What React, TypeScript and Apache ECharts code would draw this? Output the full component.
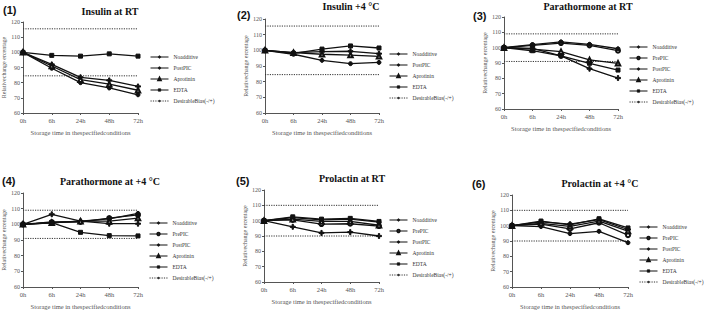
import React, { useEffect, useRef } from 'react';
import * as echarts from 'echarts';

const timePoints = ['0h', '6h', '24h', '48h', '72h'];
const seriesNames = ['Noadditive', 'PrePIC', 'PostPIC', 'Aprotinin', 'EDTA'];
const biasName = 'DesirableBias(-/+)';

const panelTitles = ['Insulin at RT', 'Insulin +4 °C', 'Parathormone at RT', 'Parathormone at +4 °C', 'Prolactin at RT', 'Prolactin at +4 °C'];
const panelLabels = ['(1)', '(2)', '(3)', '(4)', '(5)', '(6)'];

// Panel 1: Insulin at RT
const p1Noadditive = [100, 92, 83.5, 81.5, 77.5];
const p1PostPIC = [100, 89.5, 80, 76.5, 72];
const p1Aprotinin = [100, 91, 82, 79, 75];
const p1EDTA = [100, 98, 97.5, 99, 97.5];
const p1Bias = [115.5, 84.5];

// Panel 2: Insulin +4 °C
const p2Noadditive = [100, 98.5, 99.2, 99.4, 97.9];
const p2PostPIC = [100, 97.5, 93.6, 91.5, 92.3];
const p2Aprotinin = [100, 98.5, 97.5, 97, 96.2];
const p2EDTA = [100, 98.1, 100.8, 102.8, 101.5];
const p2Bias = [115.5, 84.5];

// Panel 3: Parathormone at RT
const p3Noadditive = [100, 99.6, 94.6, 86.3, 80.2];
const p3PrePIC = [100, 101.5, 103, 101.5, 98];
const p3PostPIC = [100, 102, 103.8, 102.2, 99.3];
const p3Aprotinin = [100, 99, 97.4, 92, 89.8];
const p3EDTA = [100, 98, 94.6, 89.8, 85.4];
const p3Bias = [109, 91];

// Panel 4: Parathormone at +4 °C
const p4Noadditive = [100, 106.4, 102, 100.4, 100.4];
const p4PrePIC = [100, 101.5, 101.5, 104, 106];
const p4PostPIC = [100, 101, 102, 103.5, 107];
const p4Aprotinin = [100, 101, 102, 102, 104];
const p4EDTA = [100, 101.1, 94.9, 92.8, 92.6];
const p4Bias = [109, 91];

// Panel 5: Prolactin at RT
const p5Noadditive = [100, 96, 92, 92.5, 90];
const p5PrePIC = [100, 100.5, 97.8, 98, 96.5];
const p5PostPIC = [100, 102, 100.5, 101, 99];
const p5Aprotinin = [100, 101, 99.5, 99.5, 97];
const p5EDTA = [100, 102.5, 101, 101.5, 99.5];
const p5Bias = [110, 90];

// Panel 6: Prolactin at +4 °C
const p6Noadditive = [100, 102.5, 101, 104, 97.5];
const p6PrePIC = [100, 101, 97.9, 101.9, 93.8];
const p6PostPIC = [100, 99.4, 94.8, 96.3, 88.9];
const p6Aprotinin = [100, 101.5, 99.5, 103, 96.5];
const p6EDTA = [100, 103, 100.5, 104.5, 98.5];
const p6Bias = [110, 90];

const panelData: Array<{ [k: string]: number[] }> = [
  { Noadditive: p1Noadditive, PostPIC: p1PostPIC, Aprotinin: p1Aprotinin, EDTA: p1EDTA },
  { Noadditive: p2Noadditive, PostPIC: p2PostPIC, Aprotinin: p2Aprotinin, EDTA: p2EDTA },
  { Noadditive: p3Noadditive, PrePIC: p3PrePIC, PostPIC: p3PostPIC, Aprotinin: p3Aprotinin, EDTA: p3EDTA },
  { Noadditive: p4Noadditive, PrePIC: p4PrePIC, PostPIC: p4PostPIC, Aprotinin: p4Aprotinin, EDTA: p4EDTA },
  { Noadditive: p5Noadditive, PrePIC: p5PrePIC, PostPIC: p5PostPIC, Aprotinin: p5Aprotinin, EDTA: p5EDTA },
  { Noadditive: p6Noadditive, PrePIC: p6PrePIC, PostPIC: p6PostPIC, Aprotinin: p6Aprotinin, EDTA: p6EDTA },
];
const panelBias = [p1Bias, p2Bias, p3Bias, p4Bias, p5Bias, p6Bias];

// layout (pixels)
const grids = [
  { left: 23, top: 22, width: 115, height: 91 },
  { left: 265, top: 19, width: 114, height: 94 },
  { left: 504, top: 17, width: 114, height: 92 },
  { left: 23, top: 193, width: 115, height: 94 },
  { left: 264, top: 190, width: 115, height: 92 },
  { left: 512, top: 195, width: 116, height: 97 },
];
const legendPos = [
  { left: 150, top: 53 },
  { left: 389, top: 50 },
  { left: 629, top: 43 },
  { left: 149, top: 219 },
  { left: 389, top: 216 },
  { left: 639, top: 223 },
];
const titlePos = [
  { x: 110, y: 11, lx: 3, ly: 10 },
  { x: 351, y: 6, lx: 237, ly: 15 },
  { x: 588, y: 6, lx: 473, ly: 16 },
  { x: 110, y: 181, lx: 2, ly: 181 },
  { x: 352, y: 178, lx: 236, ly: 181 },
  { x: 600, y: 183, lx: 472, ly: 184 },
];

const plusPath = 'path://M3,0H5V3H8V5H5V8H3V5H0V3H3Z';
const symbolOf: { [k: string]: string } = {
  Noadditive: plusPath,
  PrePIC: 'emptyCircle',
  PostPIC: 'circle',
  Aprotinin: 'emptyTriangle',
  EDTA: 'rect',
};
const sizeOf: { [k: string]: number } = {
  Noadditive: 5,
  PrePIC: 4,
  PostPIC: 4,
  Aprotinin: 4.5,
  EDTA: 4,
};

const serif = 'Liberation Serif, DejaVu Serif, serif';
const sans = 'Liberation Sans, Arial, sans-serif';

export default function App() {
  const ref = useRef<HTMLDivElement>(null);
  useEffect(() => {
    if (!ref.current) return;
    const chart = echarts.init(ref.current, undefined, { renderer: 'svg' });

    const xAxis: any[] = [];
    const yAxis: any[] = [];
    const series: any[] = [];
    const legend: any[] = [];
    const graphic: any[] = [];

    grids.forEach((g, i) => {
      xAxis.push({
        type: 'category',
        gridIndex: i,
        data: timePoints,
        boundaryGap: false,
        name: 'Storage time in thespecifiedconditions',
        nameLocation: 'middle',
        nameGap: 16,
        nameTextStyle: { fontFamily: serif, fontSize: 6.5, color: '#555' },
        axisLine: { lineStyle: { color: '#555', width: 1 } },
        axisTick: { length: 2, lineStyle: { color: '#555' }, alignWithLabel: true },
        axisLabel: { fontFamily: serif, fontSize: 6.5, color: '#555', margin: 4 },
        splitLine: { show: false },
      });
      yAxis.push({
        type: 'value',
        gridIndex: i,
        min: 60,
        max: 120,
        interval: 10,
        name: 'Relativechange ercentage',
        nameLocation: 'middle',
        nameGap: 15,
        nameRotate: 90,
        nameTextStyle: { fontFamily: serif, fontSize: 6, color: '#555' },
        axisLine: { show: true, lineStyle: { color: '#555', width: 1 } },
        axisTick: { show: true, length: 2, lineStyle: { color: '#555' } },
        axisLabel: { fontFamily: serif, fontSize: 6, color: '#555', margin: 3 },
        splitLine: { show: false },
      });

      const data = panelData[i];
      const names = seriesNames.filter((n) => data[n]);
      names.forEach((n) => {
        series.push({
          type: 'line',
          name: n,
          xAxisIndex: i,
          yAxisIndex: i,
          data: data[n],
          symbol: symbolOf[n],
          symbolSize: sizeOf[n],
          showSymbol: true,
          lineStyle: { color: '#111', width: 1.3 },
          itemStyle: { color: '#111', borderColor: '#111', borderWidth: 1 },
          z: 3,
        });
      });
      panelBias[i].forEach((b) => {
        series.push({
          type: 'line',
          name: biasName,
          xAxisIndex: i,
          yAxisIndex: i,
          data: timePoints.map(() => b),
          symbol: 'none',
          lineStyle: { color: '#333', width: 1, type: [1.2, 1.2] },
          itemStyle: { color: '#333' },
          z: 1,
        });
      });

      legend.push({
        orient: 'vertical',
        left: legendPos[i].left,
        top: legendPos[i].top,
        padding: 0,
        itemGap: 3,
        itemWidth: 18,
        itemHeight: 3,
        data: [...names, biasName],
        textStyle: { fontFamily: serif, fontSize: 5.5, color: '#333', lineHeight: 8 },
        lineStyle: { width: 1 },
        itemStyle: { borderWidth: 0.8 },
        selectedMode: false,
      });

      graphic.push({
        type: 'text',
        x: titlePos[i].x,
        y: titlePos[i].y,
        style: {
          text: panelTitles[i],
          font: `bold 10px ${serif}`,
          fill: '#111',
          textAlign: 'center',
          textVerticalAlign: 'middle',
        },
      });
      graphic.push({
        type: 'text',
        x: titlePos[i].lx,
        y: titlePos[i].ly,
        style: {
          text: panelLabels[i],
          font: `bold 11px ${sans}`,
          fill: '#111',
          textAlign: 'left',
          textVerticalAlign: 'middle',
        },
      });
    });

    chart.setOption({
      animation: false,
      backgroundColor: '#fff',
      grid: grids,
      xAxis,
      yAxis,
      series,
      legend,
      graphic,
    });
    return () => chart.dispose();
  }, []);

  return (
    <div
      ref={ref}
      style={{ position: 'fixed', left: 0, top: 0, width: 709, height: 311, background: '#fff' }}
    />
  );
}
